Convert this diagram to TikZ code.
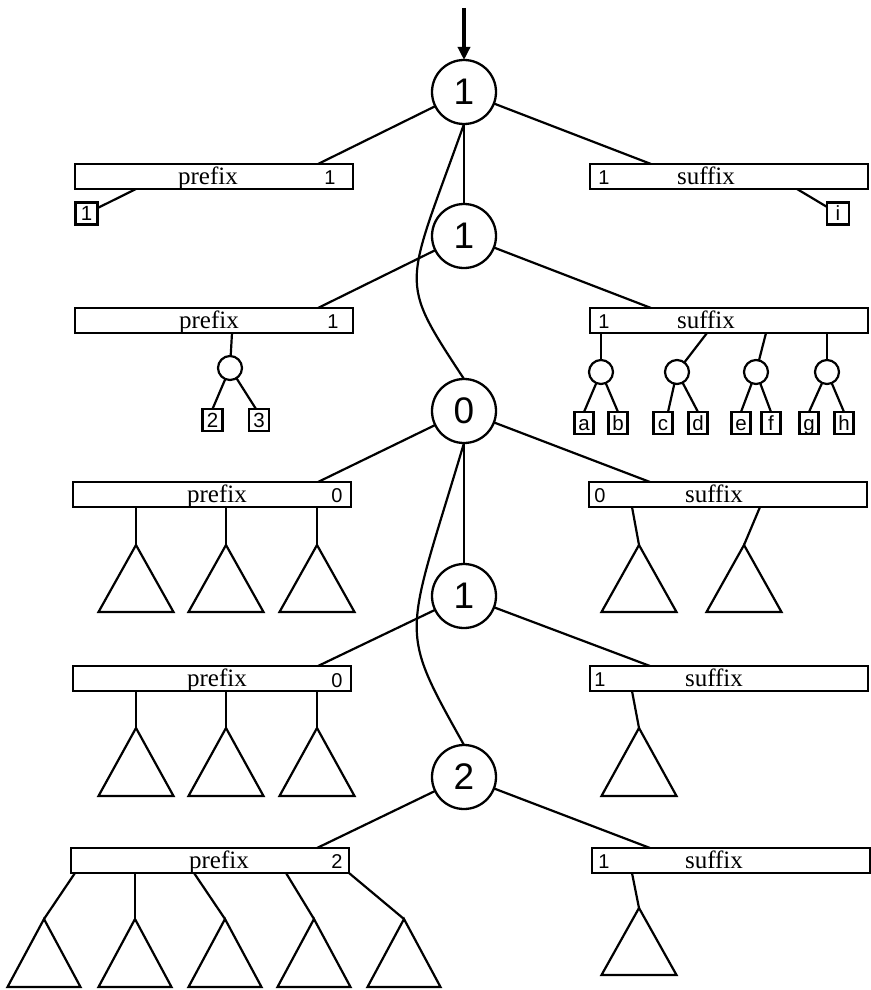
\documentclass[tikz,border=0pt]{standalone}
\usepackage{fontspec}
\setmainfont{Liberation Serif}[Ligatures=CommonOff]
\newfontfamily\sansf{Liberation Sans}
\usetikzlibrary{arrows.meta}
\tikzset{
  conn/.style={line width=2.2pt},
  bigc/.style={circle, draw, line width=2.3pt, minimum size=64pt, inner sep=0pt, outer sep=0pt, font=\sansf\fontsize{37}{37}\selectfont},
  bar/.style={draw, line width=2.8pt, minimum width=278pt, minimum height=25pt, inner sep=0pt, outer sep=0pt, anchor=north west},
  word/.style={anchor=base, inner sep=0pt, font=\fontsize{25}{25}\selectfont},
  dig/.style={anchor=base, inner sep=0pt, font=\sansf\fontsize{20}{20}\selectfont},
  leaf/.style={draw, line width=2.2pt, minimum width=19pt, minimum height=22pt, inner sep=0pt, outer sep=0pt, text height=14.5pt, text depth=0pt, font=\sansf\fontsize{20.5}{20.5}\selectfont},
  smallc/.style={circle, draw, line width=2.2pt, minimum size=24pt, inner sep=0pt, outer sep=0pt},
  tri/.style={line width=2.2pt},
  arrowst/.style={line width=4pt, -{Triangle[length=13pt,width=12pt]}}
}
\begin{document}
\begin{tikzpicture}[x=1pt, y=-1pt]
\useasboundingbox (0,0) rectangle (870,990);
% main circles
\node[bigc] (c1) at (464,92) {1};
\node[bigc] (c2) at (464,236) {1};
\node[bigc] (c3) at (464,411) {0};
\node[bigc] (c4) at (464,596) {1};
\node[bigc] (c5) at (464,777) {2};
\coordinate (top) at (464,8);
\draw[arrowst] (top) -- (c1);
% boxes
\node[bar] (p1) at (75,164) {};
\node[bar] (s1) at (590,164) {};
\node[bar] (p2) at (75,308) {};
\node[bar] (s2) at (590,308) {};
\node[bar] (p3) at (73,482) {};
\node[bar] (s3) at (589,482) {};
\node[bar] (p4) at (73,666) {};
\node[bar] (s4) at (590,666) {};
\node[bar] (p5) at (71,848) {};
\node[bar] (s5) at (592,848) {};
% box texts
\node[word] (p1t) at (208,184.5) {prefix};
\node[dig] (p1d) at (330,184.5) {1};
\node[word] (s1t) at (706,184.5) {suffix};
\node[dig] (s1d) at (604,184.5) {1};
\node[word] (p2t) at (209,328.5) {prefix};
\node[dig] (p2d) at (333,328.5) {1};
\node[word] (s2t) at (706,328.5) {suffix};
\node[dig] (s2d) at (604,328.5) {1};
\node[word] (p3t) at (217,502.5) {prefix};
\node[dig] (p3d) at (337,502.5) {0};
\node[word] (s3t) at (714,502.5) {suffix};
\node[dig] (s3d) at (600,502.5) {0};
\node[word] (p4t) at (217,686.5) {prefix};
\node[dig] (p4d) at (337,687.5) {0};
\node[word] (s4t) at (714,686.5) {suffix};
\node[dig] (s4d) at (600,686.5) {1};
\node[word] (p5t) at (219,868.5) {prefix};
\node[dig] (p5d) at (337,868.5) {2};
\node[word] (s5t) at (714,868.5) {suffix};
\node[dig] (s5d) at (604,868.5) {1};
% circle to box connectors
\draw[conn] (c1) -- ([xshift=-35pt]p1.north east);
\draw[conn] (c1) -- ([xshift=61pt]s1.north west);
\draw[conn] (c2) -- ([xshift=-35pt]p2.north east);
\draw[conn] (c2) -- ([xshift=61pt]s2.north west);
\draw[conn] (c3) -- ([xshift=-33pt]p3.north east);
\draw[conn] (c3) -- ([xshift=61pt]s3.north west);
\draw[conn] (c4) -- ([xshift=-33pt]p4.north east);
\draw[conn] (c4) -- ([xshift=60pt]s4.north west);
\draw[conn] (c5) -- ([xshift=-32pt]p5.north east);
\draw[conn] (c5) -- ([xshift=58pt]s5.north west);
% spine
\draw[conn] (c1) -- (c2);
\draw[conn] (c3) -- (c4);
\draw[conn] (c1.south) .. controls (405,290) and (397,277) .. (c3.north);
\draw[conn] (c3.south) .. controls (405,641) and (397,625) .. (c5.north);
% row 1 leaves
\node[leaf, minimum width=22pt] (l1) at (86.5,213.5) {1};
\node[leaf, minimum width=22pt] (li) at (838,213.5) {i};
\draw[conn] ([xshift=61pt]p1.south west) -- (l1);
\draw[conn] ([xshift=-71pt]s1.south east) -- (li);
% row 2 prefix
\node[smallc] (q1) at (230,368) {};
\node[leaf, minimum width=20pt] (l2) at (212.5,420) {2};
\node[leaf, minimum width=20pt] (l3) at (259,420) {3};
\draw[conn] ([xshift=157pt]p2.south west) -- (q1);
\draw[conn] (q1) -- (l2.north);
\draw[conn] (q1) -- ([xshift=-3pt]l3.north);
% row 2 suffix
\node[smallc] (r1) at (601,372) {};
\node[smallc] (r2) at (677,372) {};
\node[smallc] (r3) at (756,372) {};
\node[smallc] (r4) at (827,372) {};
\draw[conn] ([xshift=11pt]s2.south west) -- (r1);
\draw[conn] ([xshift=117pt]s2.south west) -- (r2);
\draw[conn] ([xshift=176pt]s2.south west) -- (r3);
\draw[conn] ([xshift=237pt]s2.south west) -- (r4);
\node[leaf] (la) at (584,423) {a};
\node[leaf] (lb) at (618,423) {b};
\node[leaf] (lc) at (663,423) {c};
\node[leaf] (ld) at (698,423) {d};
\node[leaf] (le) at (741,423) {e};
\node[leaf] (lf) at (771,423) {f};
\node[leaf] (lg) at (809,423) {g};
\node[leaf] (lh) at (844,423) {h};
\draw[conn] (r1) -- (la.north);
\draw[conn] (r1) -- (lb.north);
\draw[conn] (r2) -- ([xshift=5pt]lc.north);
\draw[conn] (r2) -- (ld.north);
\draw[conn] (r3) -- (le.north);
\draw[conn] (r3) -- (lf.north);
\draw[conn] (r4) -- (lg.north);
\draw[conn] (r4) -- (lh.north);
% row 3 triangles
\coordinate (t31) at (136,545);
\coordinate (t32) at (226,545);
\coordinate (t33) at (317,545);
\coordinate (u31) at (639,545);
\coordinate (u32) at (744,545);
\draw[conn] ([xshift=63pt]p3.south west) -- (t31);
\draw[conn] ([xshift=153pt]p3.south west) -- (t32);
\draw[conn] ([xshift=244pt]p3.south west) -- (t33);
\draw[conn] ([xshift=43pt]s3.south west) -- (u31);
\draw[conn] ([xshift=171pt]s3.south west) -- (u32);
\foreach \t in {t31,t32,t33,u31,u32}
  \draw[tri] (\t) -- ++(-37.5,67) -- ++(75,0) -- cycle;
% row 4 triangles
\coordinate (t41) at (136,728);
\coordinate (t42) at (226,728);
\coordinate (t43) at (317,728);
\coordinate (u41) at (639,728);
\draw[conn] ([xshift=63pt]p4.south west) -- (t41);
\draw[conn] ([xshift=153pt]p4.south west) -- (t42);
\draw[conn] ([xshift=244pt]p4.south west) -- (t43);
\draw[conn] ([xshift=42pt]s4.south west) -- (u41);
\foreach \t in {t41,t42,t43,u41}
  \draw[tri] (\t) -- ++(-37.5,68) -- ++(75,0) -- cycle;
% row 5 triangles
\coordinate (t51) at (44,919);
\coordinate (t52) at (135,919);
\coordinate (t53) at (225,919);
\coordinate (t54) at (314,919);
\coordinate (t55) at (404,919);
\coordinate (u51) at (639,908);
\draw[conn] ([xshift=4pt]p5.south west) -- (t51);
\draw[conn] ([xshift=64pt]p5.south west) -- (t52);
\draw[conn] ([xshift=123pt]p5.south west) -- (t53);
\draw[conn] ([xshift=215pt]p5.south west) -- (t54);
\draw[conn] (p5.south east) -- (t55);
\draw[conn] ([xshift=40pt]s5.south west) -- (u51);
\foreach \t in {t51,t52,t53,t54,t55}
  \draw[tri] (\t) -- ++(-36.5,68) -- ++(73,0) -- cycle;
\draw[tri] (u51) -- ++(-37.5,67) -- ++(75,0) -- cycle;
\end{tikzpicture}
\end{document}
